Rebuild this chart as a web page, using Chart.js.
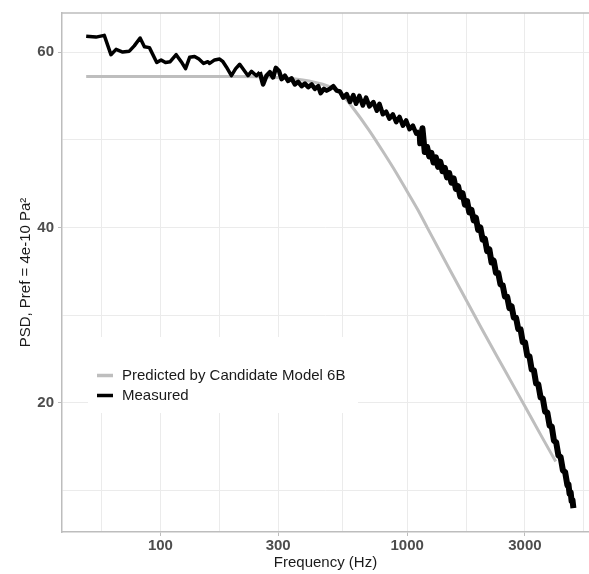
<!DOCTYPE html>
<html>
<head>
<meta charset="utf-8">
<script src="https://cdn.jsdelivr.net/npm/chart.js@4.4.0/dist/chart.umd.min.js"></script>
<style>
  html, body { margin: 0; padding: 0; background: #ffffff; }
  #wrap { width: 589px; height: 574px; }
</style>
</head>
<body>
<div id="wrap"><canvas id="psdChart" width="589" height="574"></canvas></div>
<script>
// Measured PSD in three frequency bands (Hz / level)
const lowFreq = [50, 54.8, 59.2, 63, 66.1, 70.3, 74.8, 78.3, 82.7, 86.1, 90.2, 96.6, 100.6, 104.8, 109.5, 115.8, 121.4, 126.4, 131.3, 137.5, 143.2, 149.6, 155.7];
const lowPsd = [61.8, 61.7, 61.9, 59.7, 60.3, 60.0, 60.1, 60.7, 61.6, 60.6, 60.5, 58.8, 59.1, 58.8, 58.9, 59.7, 58.9, 58.1, 59.4, 59.5, 59.2, 58.7, 58.9];

const midFreq = [158.2, 165.8, 173.7, 179.2, 185, 193.9, 201.8, 209.5, 219.6, 226.4, 233.8, 244.9, 252.6, 260.6, 269, 277.5, 286.2, 293.5, 302.7, 309.6,
  319.3, 329.3, 339.9, 350.5, 361.5, 373.3, 385, 397.1, 409.9, 422.7, 436, 446, 459.9, 471.7, 486.4, 501.6, 517.8, 534.1, 550.9, 568.7,
  586.6, 605, 620.5, 640, 660.7, 681.4, 702.8, 729.5, 753.1, 771.7, 796.7, 821.6, 847.4, 874.9, 902.4, 930.7, 960.8, 990.6, 1021.7, 1054.8,
  1087.8, 1122];
const midPsd = [58.7, 59.1, 59.2, 58.9, 58.3, 57.3, 58.1, 58.6, 57.8, 57.3, 57.8, 57.3, 57.7, 56.3, 57.3, 57.7, 57.1, 58.2, 57.8, 56.9,
  57.3, 56.7, 57.0, 56.3, 56.6, 56.1, 56.4, 56.0, 56.3, 55.8, 56.1, 55.3, 55.8, 55.6, 55.8, 56.1, 55.6, 55.5, 54.8, 55.2,
  54.3, 55.1, 54.1, 55.0, 53.9, 54.8, 53.8, 54.3, 53.3, 54.1, 52.9, 53.2, 52.4, 52.9, 52.0, 52.6, 51.6, 52.2, 51.2, 51.6,
  50.7, 51.0];

const highFreq = [1129, 1153, 1178, 1203, 1228, 1253, 1279, 1306, 1334, 1362, 1391, 1420, 1450, 1480, 1511, 1543, 1575, 1608, 1642, 1677,
  1713, 1749, 1785, 1822, 1860, 1899, 1939, 1980, 2022, 2065, 2109, 2153, 2197, 2243, 2290, 2339, 2388, 2439, 2490, 2543,
  2596, 2650, 2705, 2762, 2820, 2880, 2941, 3003, 3066, 3130, 3195, 3262, 3330, 3400, 3473, 3546, 3621, 3698, 3776, 3854,
  3933, 4016, 4101, 4188, 4276, 4366, 4459, 4505, 4551, 4598, 4637, 4677, 4717];
const highPsd = [49.6, 51.3, 48.6, 49.2, 48.1, 48.5, 47.4, 48.0, 46.9, 47.5, 46.4, 46.8, 45.7, 46.2, 45.1, 45.6, 44.4, 44.7, 43.5, 43.9,
  42.6, 43.0, 41.7, 42.0, 40.8, 41.1, 39.7, 40.0, 38.6, 38.7, 37.3, 37.5, 36.0, 36.2, 34.8, 34.8, 33.5, 33.4, 32.1, 32.1,
  30.8, 31.0, 29.7, 29.7, 28.4, 28.4, 26.9, 26.9, 25.4, 25.3, 23.8, 23.7, 22.2, 22.1, 20.6, 20.5, 19.0, 18.9, 17.4, 17.3,
  15.7, 15.5, 14.0, 13.8, 12.3, 12.1, 10.6, 10.7, 9.6, 9.8, 8.8, 8.9, 8.0];

// Model prediction (smooth grey curve)
const predictedFreq = [50, 100, 200, 300, 400, 500, 534, 550, 600, 700, 800, 900, 1000, 1100, 1200, 1500, 2000, 2500, 3000, 3500, 4000];
const predictedPsd = [57.2, 57.2, 57.2, 57.1, 56.7, 55.9, 55.4, 55.0, 53.7, 51.1, 48.6, 46.3, 44.1, 42.1, 40.1, 35.0, 28.5, 23.6, 19.6, 16.2, 13.3];

// Axis breaks (labelled majors + ggplot-style minor grid positions)
const xMajorTicks = [100, 300, 1000, 3000];
const xGridTicks = [57.7, 100, 173.2, 300, 547.7, 1000, 1732, 3000, 5196];
const yMajorTicks = [20, 40, 60];
const yGridTicks = [10, 20, 30, 40, 50, 60];

const FONT = '"Liberation Sans", Arial, sans-serif';
const GRID = '#ebebeb';
const AXIS = '#bdbdbd';

function toPoints(xs, ys) {
  return xs.map((x, i) => ({ x: x, y: ys[i] }));
}

const measuredPoints = [].concat(
  toPoints(lowFreq, lowPsd),
  toPoints(midFreq, midPsd),
  toPoints(highFreq, highPsd)
);

// the noisy trace looks heavier where the spectrum is denser
function measuredWidth(c) {
  const f = c.p0.parsed.x;
  if (f >= 1122) return 6;
  if (f >= 250) return 4.5;
  return 3.5;
}

// top edge of the panel and the legend box sitting inside the plot
const panelDecor = {
  id: 'panelDecor',
  beforeDatasetsDraw(chart) {
    const { ctx, chartArea } = chart;
    ctx.save();
    ctx.strokeStyle = AXIS;
    ctx.lineWidth = 1.5;
    ctx.beginPath();
    ctx.moveTo(chartArea.left, chartArea.top);
    ctx.lineTo(chartArea.right, chartArea.top);
    ctx.stroke();

    ctx.fillStyle = '#ffffff';
    ctx.fillRect(88, 337, 270, 76);

    const order = [chart.data.datasets[1], chart.data.datasets[0]];
    ctx.font = '15px ' + FONT;
    ctx.textBaseline = 'middle';
    ctx.textAlign = 'left';
    order.forEach((ds, i) => {
      const y = 375.5 + i * 20;
      ctx.strokeStyle = ds.borderColor;
      ctx.lineWidth = 3.5;
      ctx.beginPath();
      ctx.moveTo(97, y);
      ctx.lineTo(113, y);
      ctx.stroke();
      ctx.fillStyle = '#1a1a1a';
      ctx.fillText(ds.label, 122, y);
    });
    ctx.restore();
  }
};

const ctx = document.getElementById('psdChart').getContext('2d');
const chart = new Chart(ctx, {
  type: 'line',
  data: {
    datasets: [
      {
        label: 'Measured',
        data: measuredPoints,
        borderColor: '#000000',
        borderWidth: 3.5,
        pointRadius: 0,
        tension: 0,
        borderJoinStyle: 'round',
        segment: { borderWidth: measuredWidth }
      },
      {
        label: 'Predicted by Candidate Model 6B',
        data: toPoints(predictedFreq, predictedPsd),
        borderColor: '#bebebe',
        borderWidth: 3,
        pointRadius: 0,
        cubicInterpolationMode: 'monotone',
        borderJoinStyle: 'round'
      }
    ]
  },
  options: {
    responsive: false,
    devicePixelRatio: 1,
    animation: false,
    layout: { padding: { top: 10, right: 0, bottom: 0, left: 0 } },
    plugins: {
      legend: { display: false },
      tooltip: { enabled: false }
    },
    scales: {
      x: {
        type: 'logarithmic',
        min: 39.9,
        max: 5456,
        afterBuildTicks: s => { s.ticks = xGridTicks.map(v => ({ value: v })); },
        afterFit: s => { s.height = 42; },
        ticks: {
          autoSkip: false,
          maxRotation: 0,
          padding: 1,
          color: '#4d4d4d',
          font: { family: FONT, size: 15, weight: 'bold' },
          callback: v => (xMajorTicks.includes(v) ? String(v) : '')
        },
        grid: {
          color: GRID,
          lineWidth: 1,
          tickLength: 4,
          tickColor: c => (c.tick && xMajorTicks.includes(c.tick.value) ? AXIS : 'rgba(0,0,0,0)')
        },
        border: { color: AXIS, width: 1.5 },
        title: {
          display: true,
          text: 'Frequency (Hz)',
          color: '#1a1a1a',
          font: { family: FONT, size: 15 },
          padding: { top: 0, bottom: 2 }
        }
      },
      y: {
        min: 5.27,
        max: 64.45,
        afterBuildTicks: s => { s.ticks = yGridTicks.map(v => ({ value: v })); },
        afterFit: s => { s.width = 62; },
        ticks: {
          padding: 4,
          color: '#4d4d4d',
          font: { family: FONT, size: 15, weight: 'bold' },
          callback: v => (yMajorTicks.includes(v) ? String(v) : '')
        },
        grid: {
          color: GRID,
          lineWidth: 1,
          tickLength: 4,
          tickColor: c => (c.tick && yMajorTicks.includes(c.tick.value) ? AXIS : 'rgba(0,0,0,0)')
        },
        border: { color: AXIS, width: 1.5 },
        title: {
          display: true,
          text: 'PSD, Pref = 4e-10 Pa²',
          color: '#1a1a1a',
          font: { family: FONT, size: 15 },
          padding: { top: 17, bottom: 0 }
        }
      }
    }
  },
  plugins: [panelDecor]
});
</script>
</body>
</html>
